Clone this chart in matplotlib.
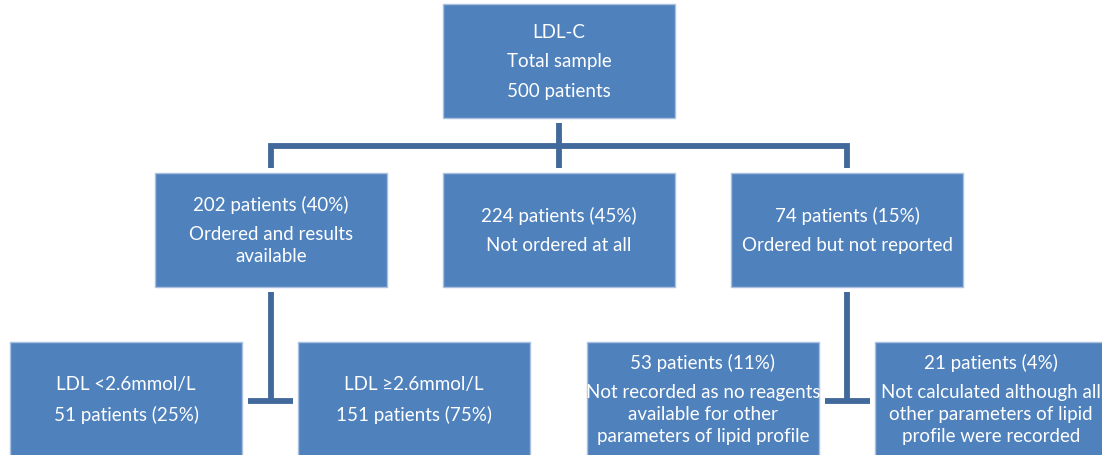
import matplotlib.pyplot as plt
from matplotlib.patches import Rectangle

# box texts (paragraphs, "\n" = wrapped line inside a paragraph)
top_text = ["LDL-C", "Total sample", "500 patients"]
mid_texts = [
    ["202 patients (40%)", "Ordered and results\navailable"],
    ["224 patients (45%)", "Not ordered at all"],
    ["74 patients (15%)", "Ordered but not reported"],
]
low_texts = [
    ["LDL <2.6mmol/L", "51 patients (25%)"],
    ["LDL \u22652.6mmol/L", "151 patients (75%)"],
    ["53 patients (11%)", "Not recorded as no reagents\navailable for other\nparameters of lipid profile"],
    ["21 patients (4%)", "Not calculated although all\nother parameters of lipid\nprofile were recorded"],
]

# layout (pixels)
W, H = 1102, 456
BW, BH = 232, 114
top_box = (443, 5)
mid_boxes = [(155, 174), (443, 174), (731, 174)]
low_boxes = [(10, 343), (298, 343), (587, 343), (875, 343)]

FILL = '#4f81bd'
EDGE = '#a9c0df'
LINE = '#41699b'
FONT = ['Lato', 'DejaVu Sans']

fig = plt.figure(figsize=(W / 100, H / 100), dpi=100)
ax = fig.add_axes([0, 0, 1, 1])
ax.set_xlim(0, W)
ax.set_ylim(H, 0)
ax.axis('off')


def draw_box(x, y, paras):
    ax.add_patch(Rectangle((x, y), BW, BH, facecolor=FILL, edgecolor=EDGE, lw=1))
    lines = []
    gaps = []
    for i, p in enumerate(paras):
        for j, ln in enumerate(p.split('\n')):
            lines.append(ln)
            gaps.append(0 if not lines[:-1] else (30 if j == 0 else 22))
    ys = []
    cur = 0
    for g in gaps:
        cur += g
        ys.append(cur)
    off = y + BH / 2 - ys[-1] / 2
    for ln, yy in zip(lines, ys):
        ax.text(x + BW / 2, off + yy, ln, ha='center', va='center',
                color='white', fontsize=13.5, family=FONT)


draw_box(*top_box, top_text)
for b, t in zip(mid_boxes, mid_texts):
    draw_box(*b, t)
for b, t in zip(low_boxes, low_texts):
    draw_box(*b, t)

lw = 4.2
cx = [b[0] + BW / 2 for b in mid_boxes]
# top connector
ax.plot([top_box[0] + BW / 2] * 2, [124, 169], color=LINE, lw=lw, solid_capstyle='butt')
ax.plot([cx[0], cx[0], cx[2], cx[2]], [169, 147, 147, 169], color=LINE, lw=lw,
        solid_capstyle='butt', solid_joinstyle='miter')

# lower connectors (T shapes)
for c, (l, r) in zip([cx[0], cx[2]], [(248, 293), (825, 870)]):
    ax.plot([c, c], [293, 402], color=LINE, lw=lw, solid_capstyle='butt')
    ax.plot([l, r], [402, 402], color=LINE, lw=lw, solid_capstyle='butt')

fig.savefig('out.png', dpi=100)
